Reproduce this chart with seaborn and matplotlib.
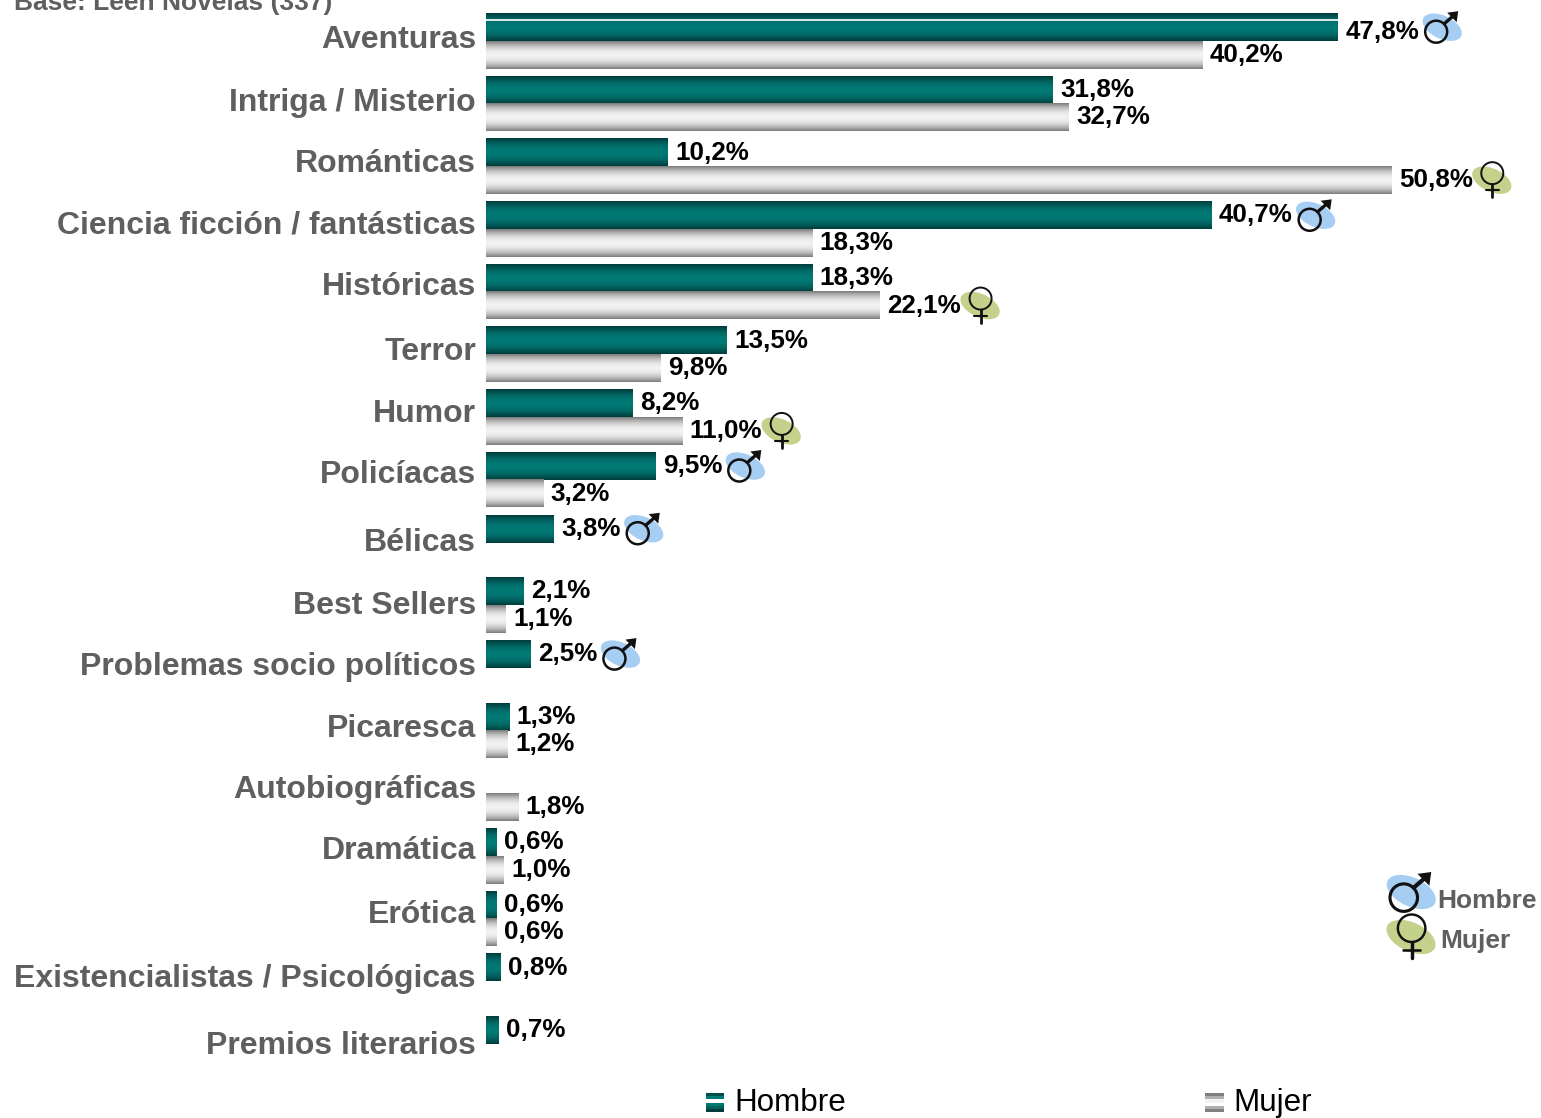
import numpy as np
import pandas as pd
import matplotlib
matplotlib.use("Agg")
import matplotlib.pyplot as plt
import seaborn as sns
from matplotlib.legend_handler import HandlerBase
from matplotlib.lines import Line2D
from matplotlib.patches import Circle, Ellipse, Polygon, Rectangle
from matplotlib.transforms import ScaledTranslation

# Values
categories = ["Aventuras", "Intriga / Misterio", "Románticas", "Ciencia ficción / fantásticas",
              "Históricas", "Terror", "Humor", "Policíacas", "Bélicas", "Best Sellers",
              "Problemas socio políticos", "Picaresca", "Autobiográficas", "Dramática",
              "Erótica", "Existencialistas / Psicológicas", "Premios literarios"]
hombre = [47.8, 31.8, 10.2, 40.7, 18.3, 13.5, 8.2, 9.5, 3.8, 2.1, 2.5, 1.3, np.nan, 0.6, 0.6, 0.8, 0.7]
mujer = [40.2, 32.7, 50.8, 18.3, 22.1, 9.8, 11.0, 3.2, np.nan, 1.1, np.nan, 1.2, 1.8, 1.0, 0.6, np.nan, np.nan]
hombre_destacado = ["Aventuras", "Ciencia ficción / fantásticas", "Policíacas", "Bélicas",
                    "Problemas socio políticos"]
mujer_destacado = ["Románticas", "Históricas", "Humor"]

# Vertical nudge of each category label, in pixels (the originals are not evenly placed)
label_shift = [3, 3, 4, 5, 6, 4, 5, 6, 2, 2, 3, 4, 5, 6, 5, 4, 1]

W, H = 1541, 1118
GREY = "#5f5f5f"
BLUE = "#a6cef3"
OLIVE = "#c3d18b"

sns.set_style("white")
plt.rcParams["font.family"] = ["Liberation Sans", "DejaVu Sans"]

df = pd.DataFrame({
    "categoria": categories * 2,
    "valor": hombre + mujer,
    "sexo": ["Hombre"] * len(categories) + ["Mujer"] * len(categories),
})

fig = plt.figure(figsize=(W / 100, H / 100), dpi=100)
ax = fig.add_axes([486 / W, 0, 1 - 486 / W, 1])
sns.barplot(data=df, y="categoria", x="valor", hue="sexo", order=categories,
            hue_order=["Hombre", "Mujer"], palette=["#007a75", "#f0f0f0"],
            width=0.88, errorbar=None, legend=False, ax=ax)


def gradient(edge, mid, n=29):
    edge, mid = np.array(matplotlib.colors.to_rgb(edge)), np.array(matplotlib.colors.to_rgb(mid))
    t = 1 - np.abs(np.linspace(-1, 1, n)) ** 2
    return (edge[None, :] * (1 - t[:, None]) + mid[None, :] * t[:, None])[:, None, :]


grad_h = gradient("#003d3c", "#007a75")
grad_m = gradient("#808080", "#f2f2f2")

# paint the gradients over the bars seaborn placed
for cont, grad in zip(ax.containers, [grad_h, grad_m]):
    etiquetas = [f"{b.get_width():.1f}%".replace(".", ",") for b in cont]
    cont.etiquetas = ax.bar_label(cont, labels=etiquetas, padding=5.5, fontsize=18.7,
                                  fontweight="bold", color="black")
    for b in cont:
        ax.imshow(grad, extent=[b.get_x(), b.get_x() + b.get_width(),
                                b.get_y() + b.get_height(), b.get_y()],
                  aspect="auto", interpolation="bilinear", zorder=b.get_zorder() + 0.1)

# the white hairline on the first bar, its label sits below the bar centre
b0 = ax.containers[0][0]
ax.plot([0, b0.get_width()], [b0.get_y() + 0.1] * 2, color="white", lw=1.2, zorder=5)
t0 = ax.containers[0].etiquetas[0]
t0.xyann = (t0.xyann[0], t0.xyann[1] - 3.6)

ax.set_xlim(0, (W - 486) / 17.82)
ax.set_ylim((H - 41) / 62.69, -41 / 62.69)
ax.set_xlabel("")
ax.set_ylabel("")
ax.set_xticks([])
ax.tick_params(axis="y", length=0, pad=7.2)
sns.despine(ax=ax, left=True, bottom=True)
for lab, dy in zip(ax.get_yticklabels(), label_shift):
    lab.set_fontsize(23)
    lab.set_fontweight("bold")
    lab.set_color(GREY)
    lab.set_transform(lab.get_transform() + ScaledTranslation(0, dy / 72, fig.dpi_scale_trans))


class Rayas(HandlerBase):
    def __init__(self, colores):
        super().__init__()
        self.colores = colores

    def create_artists(self, legend, orig, x, y, w, h, fontsize, trans):
        alto = h / len(self.colores)
        return [Rectangle((x, y + h - (i + 1) * alto), w, alto, facecolor=c, edgecolor="none",
                          transform=trans) for i, c in enumerate(self.colores)]


h1, h2 = Line2D([], []), Line2D([], [])
rayas_h = ["#004f4c", "#007a75", "#ffffff", "#007a75", "#005f5b", "#003d3c"]
rayas_m = ["#808080", "#b0b0b0", "#f2f2f2", "#ffffff", "#b0b0b0", "#808080"]
ax.legend([h1, h2], ["Hombre", "Mujer"], handler_map={h1: Rayas(rayas_h), h2: Rayas(rayas_m)},
          ncol=2, loc="lower left", bbox_to_anchor=(706 / W, 0), bbox_transform=fig.transFigure,
          frameon=False, fontsize=22.6, borderpad=0, borderaxespad=0, handlelength=0.58,
          handleheight=0.58, handletextpad=0.32, columnspacing=11.45, labelcolor="black")

# overlay in pixel coordinates for the sex icons and loose texts
over = fig.add_axes([0, 0, 1, 1])
over.set_xlim(0, W)
over.set_ylim(H, 0)
over.axis("off")


def icono_hombre(cx, cy, s=1.0):
    over.add_patch(Ellipse((cx + s, cy), 42 * s, 23 * s, angle=25, color=BLUE, lw=0))
    rx, ry = cx - 5 * s, cy + 4.5 * s
    over.add_patch(Circle((rx, ry), 11 * s, fill=False, ec="#111111", lw=1.8 * s))
    tx, ty = cx + 17 * s, cy - 16 * s
    over.plot([rx + 8 * s, tx - 3 * s], [ry - 8 * s, ty + 3 * s], color="#111111", lw=2.4 * s)
    over.add_patch(Polygon([(tx, ty), (tx - 11 * s, ty + 1.5 * s), (tx - 1.5 * s, ty + 11 * s)],
                           color="#111111", lw=0))


def icono_mujer(cx, cy, s=1.0):
    over.add_patch(Ellipse((cx, cy), 42 * s, 23 * s, angle=25, color=OLIVE, lw=0))
    rx, ry = cx + 0.5 * s, cy - 7 * s
    over.add_patch(Circle((rx, ry), 11 * s, fill=False, ec="#111111", lw=1.4 * s))
    over.plot([rx, rx], [ry + 11 * s, ry + 24 * s], color="#111111", lw=2.0 * s)
    over.plot([rx - 6.5 * s, rx + 6.5 * s], [ry + 17 * s, ry + 17 * s], color="#111111", lw=1.5 * s)


fig.canvas.draw()
for cont, destacados, dib, sep in [(ax.containers[0], hombre_destacado, icono_hombre, 22),
                                   (ax.containers[1], mujer_destacado, icono_mujer, 19)]:
    for b, txt in zip(cont, cont.etiquetas):
        fila = round(b.get_y() + b.get_height() / 2 + (0.25 if dib is icono_hombre else -0.25))
        if categories[fila] in destacados:
            ext = txt.get_window_extent()
            yc = H - ax.transData.transform((0, b.get_y() + b.get_height() / 2))[1]
            dib(ext.x1 + sep, yc)

icono_hombre(1410, 892, 1.25)
icono_mujer(1411, 937, 1.25)
over.text(1437, 900.5, "Hombre", fontsize=19, fontweight="bold", color=GREY, va="center")
over.text(1440, 941, "Mujer", fontsize=19, fontweight="bold", color=GREY, va="center")
over.text(14, 10, "Base: Leen Novelas (337)", fontsize=19, fontweight="bold", color=GREY, va="baseline")

fig.savefig("out.png", dpi=100)
